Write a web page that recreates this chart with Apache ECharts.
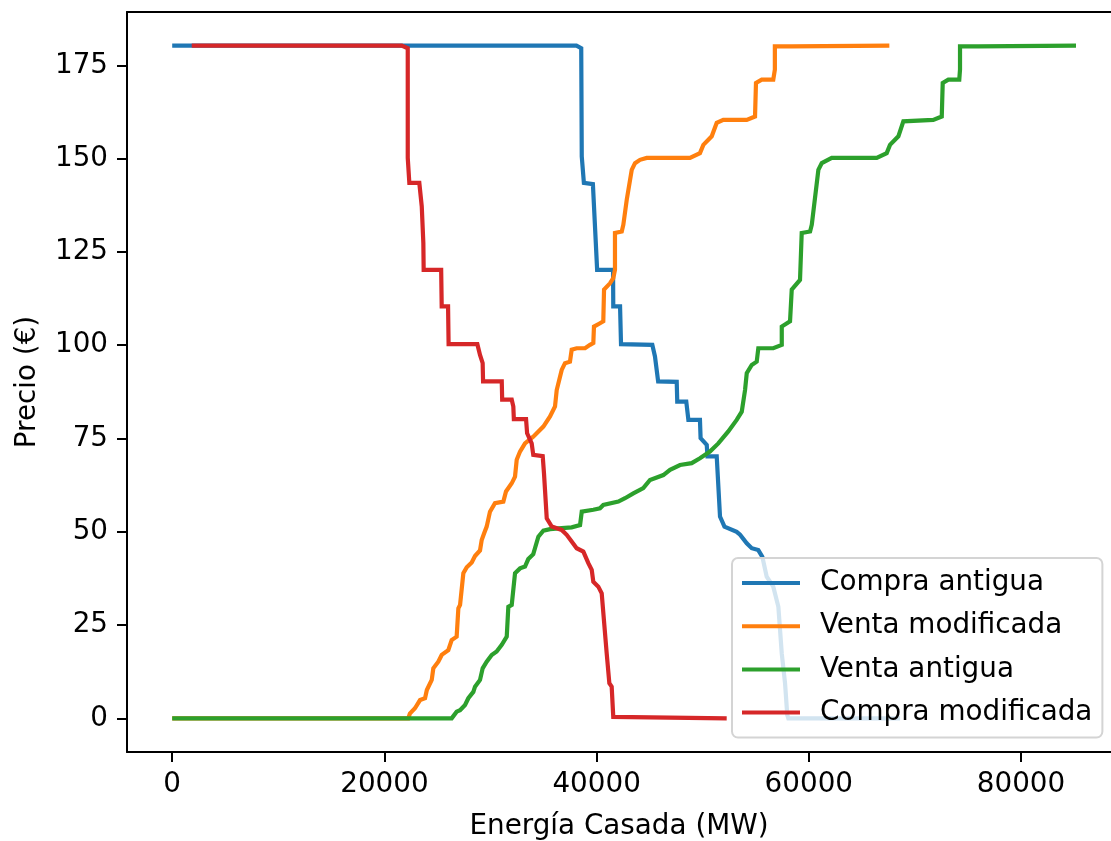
<!DOCTYPE html>
<html>
<head>
<meta charset="utf-8">
<script src="https://cdn.jsdelivr.net/npm/echarts@6/dist/echarts.min.js"></script>
<style>
  html, body { margin: 0; padding: 0; background: #fff; }
  #chart { width: 1111px; height: 841px; }
</style>
</head>
<body>
<div id="chart"></div>
<script>
// step curves: [energía MW, precio €]
const compraAntigua = [
  [0, 180.3], [38100, 180.3], [38550, 179.6], [38600, 150.6], [38800, 143.5], [39650, 143.2],
  [40050, 120.2], [41550, 120.2], [41570, 110.4], [42210, 110.4], [42300, 100.3], [45250, 100.1],
  [45500, 97], [45800, 90.3], [47550, 90.2], [47600, 84.9], [48450, 84.9], [48650, 80],
  [49740, 80], [49800, 75.1], [50380, 73.3], [50450, 70.2], [51320, 70.2], [51630, 54.1],
  [52050, 51.4], [53200, 50], [53520, 49.2], [54150, 46.9], [54620, 45.6], [55240, 45.1],
  [55620, 43.3], [56030, 38], [56650, 35.3], [57130, 29.9], [57450, 17.4], [57760, 9.4],
  [57970, 0.9], [58070, 0], [68600, 0]
]

const ventaModificada = [
  [0, 0], [22250, 0], [22400, 1.3], [22880, 2.7], [23360, 4.9], [23830, 5.4], [24000, 7.6],
  [24460, 10.3], [24610, 13.4], [25080, 15.2], [25400, 17], [26020, 18.3], [26340, 21],
  [26810, 21.9], [26970, 29.5], [27130, 30.4], [27440, 38.9], [27760, 40.5], [28230, 41.8],
  [28540, 43.5], [29010, 45], [29170, 47.8], [29400, 49.6], [29640, 51.4], [29950, 55.4],
  [30420, 57.7], [31210, 58.1], [31460, 60.8], [32000, 63], [32310, 64.8], [32470, 69.3],
  [32780, 71.5], [33250, 73.7], [34030, 75.5], [34980, 78.2], [35610, 80.9], [36080, 83.6],
  [36240, 88], [36710, 93.4], [37020, 95.2], [37490, 95.6], [37650, 98.8], [38120, 99.2],
  [38910, 99.2], [39380, 100.1], [39690, 100.6], [39750, 105], [40320, 105.9], [40630, 106.4],
  [40700, 114.9], [41260, 116.6], [41570, 118], [41730, 120.2], [41730, 130.1], [42370, 130.5],
  [42520, 132.3], [42840, 139], [43310, 147], [43620, 148.8], [44090, 149.7], [44720, 150.2],
  [48800, 150.2], [49740, 151.5], [50060, 153.7], [50850, 156], [51320, 159.6], [51940, 160.4],
  [54150, 160.4], [54930, 161.3], [55020, 170.3], [55560, 171.2], [56650, 171.2], [56800, 173.9],
  [56800, 180.1], [58390, 180.1], [58540, 180.3], [67590, 180.3]
]

const ventaAntigua = [
  [0, 0], [26340, 0], [26810, 1.8], [27130, 2.2], [27600, 3.6], [27910, 5.4], [28380, 7.1],
  [28540, 8.5], [29010, 10.3], [29260, 13.4], [29640, 15.2], [30110, 17], [30580, 17.9],
  [31060, 19.7], [31530, 21.9], [31680, 29.9], [32000, 30.4], [32310, 38.9], [32780, 40.2],
  [33250, 40.7], [33560, 42.7], [34030, 44], [34190, 45.6], [34510, 48.7], [34980, 50.3],
  [35610, 50.7], [36710, 51], [37650, 51.2], [38440, 51.8], [38600, 55.4], [39690, 55.9],
  [40320, 56.3], [40630, 57.2], [42050, 58.1], [42680, 59], [43460, 60.3], [44400, 61.7],
  [45030, 63.9], [46290, 65.2], [46920, 66.6], [47860, 67.9], [48960, 68.4], [49740, 69.7],
  [50680, 71.5], [51470, 73.7], [52410, 76.9], [53200, 80], [53680, 82.2], [53990, 88],
  [54150, 92.5], [54620, 94.7], [55090, 95.6], [55240, 99.2], [56650, 99.2], [57450, 100.1],
  [57450, 105], [58230, 106.4], [58390, 114.9], [59170, 117.5], [59330, 130.1], [60120, 130.5],
  [60280, 132.3], [60900, 147], [61220, 148.8], [62160, 150.2], [66400, 150.2], [67340, 151.5],
  [67650, 153.7], [68440, 156], [68910, 160], [71730, 160.4], [72530, 161.3], [72620, 170.3],
  [73150, 171.2], [74180, 171.2], [74250, 173.9], [74250, 180.1], [75980, 180.1], [76140, 180.3],
  [85180, 180.3]
]

const compraModificada = [
  [1840, 180.3], [21630, 180.3], [22200, 179.6], [22200, 150.2], [22350, 143.5], [23290, 143.5],
  [23520, 137.2], [23670, 127.4], [23700, 120.2], [25350, 120.2], [25400, 110.4], [26000, 110.4],
  [26050, 100.3], [28760, 100.3], [29010, 97.4], [29260, 95.2], [29300, 90.3], [31060, 90.3],
  [31100, 85.4], [32000, 85.4], [32150, 83.6], [32200, 80.2], [33350, 80.2], [33450, 76.4],
  [33880, 73.7], [34030, 70.6], [34920, 70.3], [35040, 65.7], [35300, 53.6], [35770, 51.4],
  [36710, 50.5], [37180, 49.2], [37650, 47.4], [38120, 45.6], [38750, 44.7], [39220, 41.6],
  [39540, 39.8], [39690, 36.6], [40160, 35.3], [40480, 33.5], [40950, 17.4], [41200, 9.4],
  [41420, 8.5], [41570, 0.4], [41730, 0], [52260, 0]
]

const seriesNames = ['Compra antigua', 'Venta modificada', 'Venta antigua', 'Compra modificada']
const seriesColors = ['#1f77b4', '#ff7f0e', '#2ca02c', '#d62728']
const xTicks = [0, 20000, 40000, 60000, 80000]
const yTicks = [0, 25, 50, 75, 100, 125, 150, 175]

const font = 'DejaVu Sans'
const fs = 27.8
const black = '#000'

const chart = echarts.init(document.getElementById('chart'))

const allData = [compraAntigua, ventaModificada, ventaAntigua, compraModificada]

chart.setOption({
  animation: false,
  backgroundColor: '#fff',
  grid: { left: 127, top: 12, right: 0, bottom: 89, containLabel: false, outerBoundsMode: 'none' },
  legend: {
    data: seriesNames,
    orient: 'vertical',
    left: 732,
    top: 558,
    icon: 'rect',
    itemWidth: 58,
    itemHeight: 4,
    itemGap: 15.2,
    padding: [11, 10, 11, 10],
    backgroundColor: 'rgba(255,255,255,0.8)',
    borderColor: '#d4d4d4',
    borderWidth: 2,
    borderRadius: 6,
    selectedMode: false,
    textStyle: { fontFamily: font, fontSize: fs, color: black, padding: [0, 0, 0, 15] }
  },
  xAxis: [{
    type: 'value',
    position: 'bottom',
    min: -4260,
    max: 88480,
    splitLine: { show: false },
    axisLine: { show: true, onZero: false, lineStyle: { color: black, width: 2 } },
    axisTick: { show: true, length: 10, customValues: xTicks, lineStyle: { color: black, width: 2 } },
    axisLabel: {
      customValues: xTicks, margin: 19, fontFamily: font, fontSize: fs, color: black,
      formatter: v => String(v)
    },
    name: 'Energía Casada (MW)',
    nameLocation: 'middle',
    nameGap: 61,
    nameTextStyle: { fontFamily: font, fontSize: fs, color: black }
  }, {
    // top spine only
    type: 'value',
    position: 'top',
    min: -4260,
    max: 88480,
    splitLine: { show: false },
    axisLine: { show: true, onZero: false, lineStyle: { color: black, width: 2 } },
    axisTick: { show: false },
    axisLabel: { show: false }
  }],
  yAxis: {
    type: 'value',
    min: -9.015,
    max: 189.315,
    splitLine: { show: false },
    axisLine: { show: true, onZero: false, lineStyle: { color: black, width: 2 } },
    axisTick: { show: true, length: 10, customValues: yTicks, lineStyle: { color: black, width: 2 } },
    axisLabel: { customValues: yTicks, margin: 19, fontFamily: font, fontSize: fs, color: black },
    name: 'Precio (€)',
    nameLocation: 'middle',
    nameGap: 85,
    nameTextStyle: { fontFamily: font, fontSize: fs, color: black }
  },
  series: allData.map((d, i) => ({
    name: seriesNames[i],
    type: 'line',
    xAxisIndex: 0,
    data: d,
    symbol: 'none',
    showSymbol: false,
    color: seriesColors[i],
    lineStyle: { color: seriesColors[i], width: 4.2, join: 'miter' },
    emphasis: { disabled: true }
  }))
})
</script>
</body>
</html>
